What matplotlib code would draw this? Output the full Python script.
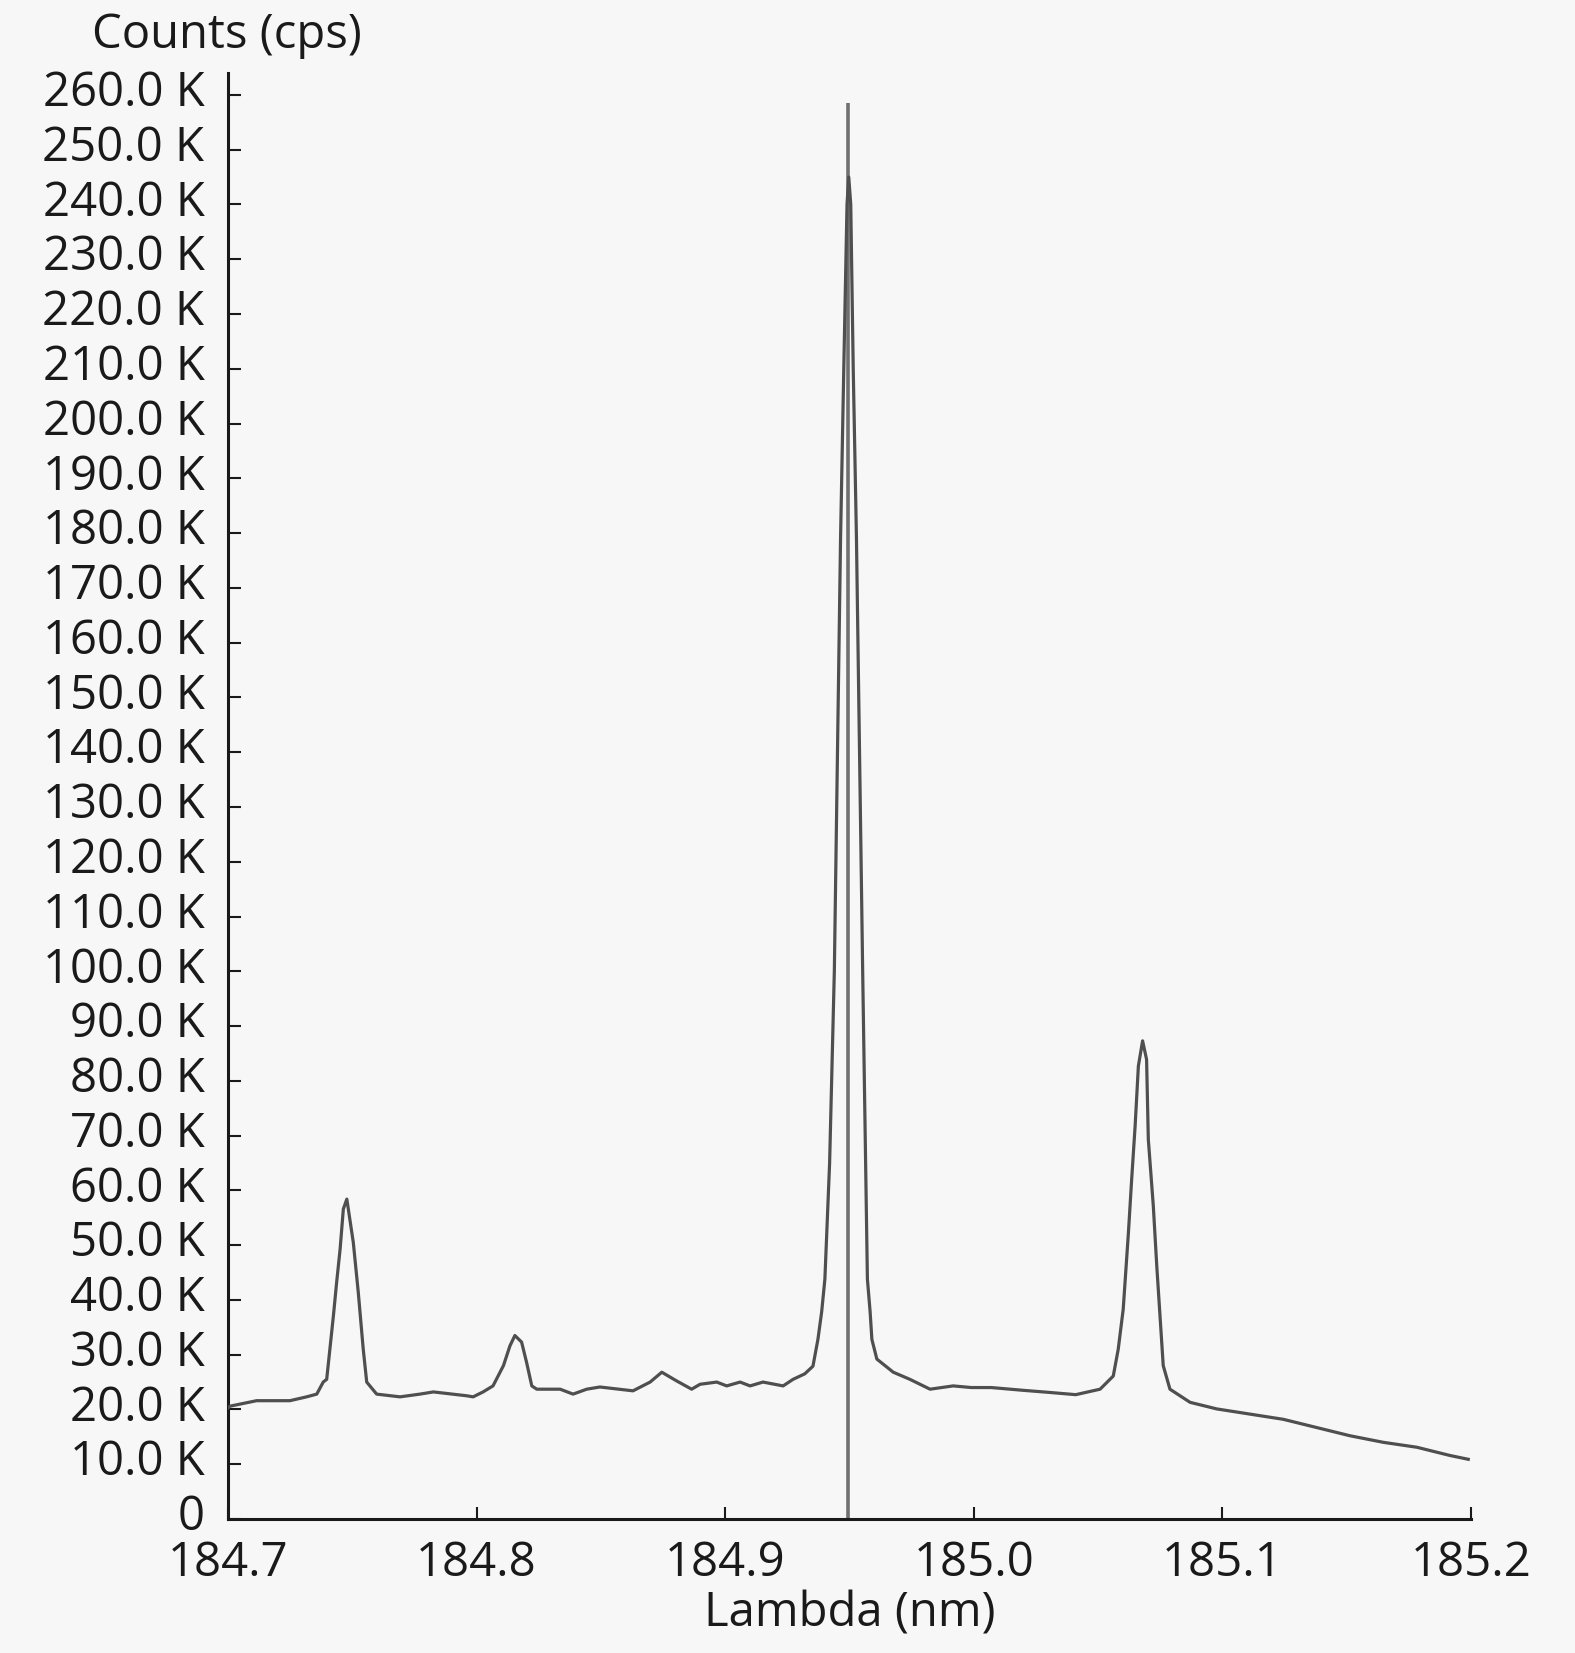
#!/usr/bin/env python3
"""
Emission spectrum around 184.95 nm (counts vs wavelength).
"""
import matplotlib
matplotlib.use("Agg")
import matplotlib.pyplot as plt
import matplotlib.transforms as mtransforms
from matplotlib.ticker import FuncFormatter, MultipleLocator

# wavelength (nm) and counts (cps)
wavelength = [
    184.7000, 184.7008, 184.7115, 184.7249, 184.7316, 184.7357, 184.7383, 184.7397,
    184.7424, 184.7437, 184.7451, 184.7464, 184.7478, 184.7504, 184.7524, 184.7544,
    184.7558, 184.7598, 184.7692, 184.7772, 184.7826, 184.7960, 184.7986, 184.8026,
    184.8066, 184.8108, 184.8134, 184.8154, 184.8181, 184.8201, 184.8222, 184.8242,
    184.8336, 184.8388, 184.8443, 184.8496, 184.8629, 184.8698, 184.8745, 184.8805,
    184.8865, 184.8899, 184.8966, 184.9006, 184.9060, 184.9100, 184.9152, 184.9233,
    184.9273, 184.9320, 184.9353, 184.9373, 184.9388, 184.9401, 184.9420, 184.9439,
    184.9464, 184.9477, 184.9490, 184.9497, 184.9505, 184.9515, 184.9528, 184.9553,
    184.9572, 184.9583, 184.9590, 184.9610, 184.9676, 184.9743, 184.9824, 184.9917,
    184.9990, 185.0070, 185.0197, 185.0307, 185.0410, 185.0508, 185.0561, 185.0581,
    185.0601, 185.0622, 185.0635, 185.0649, 185.0662, 185.0679, 185.0695, 185.0702,
    185.0722, 185.0736, 185.0749, 185.0762, 185.0789, 185.0870, 185.0977, 185.1245,
    185.1379, 185.1513, 185.1647, 185.1782, 185.1915, 185.1989,
]
counts = [
    20300, 20600, 21600, 21600, 22300, 22800, 25000, 25500,
    37100, 43200, 49300, 56600, 58400, 50500, 41400, 31000,
    25000, 22800, 22300, 22800, 23200, 22500, 22300, 23200,
    24300, 28000, 31600, 33500, 32300, 28600, 24300, 23700,
    23700, 22800, 23700, 24100, 23400, 25000, 26800, 25200,
    23700, 24600, 25000, 24300, 25000, 24300, 25000, 24300,
    25500, 26500, 27900, 32800, 37800, 43800, 65000, 100000,
    179000, 210000, 240000, 245000, 240000, 210000, 179000, 100000,
    43800, 37800, 32800, 29200, 26800, 25500, 23700, 24300,
    24000, 24000, 23500, 23100, 22700, 23700, 26100, 31000,
    38300, 52300, 62000, 71800, 82700, 87300, 83900, 69300,
    57200, 46200, 37100, 28000, 23700, 21300, 20100, 18200,
    16700, 15200, 14000, 13100, 11600, 10900,
]

# marker line at the main line position
marker_x = 184.9495
marker_top = 258500

xlabel = "Lambda (nm)"
ylabel = "Counts (cps)"

bg = "#f7f7f7"
line_color = "#4f4f4f"

plt.rcParams.update({
    "font.family": ["Open Sans", "DejaVu Sans"],
    "font.size": 34,
})

fig = plt.figure(figsize=(15.75, 16.53), dpi=100, facecolor=bg)
ax = fig.add_axes([228 / 1575, 1 - 1519 / 1653, (1471 - 228) / 1575, (1519 - 73) / 1653])
ax.set_facecolor(bg)

ax.vlines(marker_x, 0, marker_top, color="#707070", linewidth=2.6, zorder=2)
ax.plot(wavelength, counts, color=line_color, linewidth=2.3, zorder=3)

ax.set_xlim(184.7, 185.2)
ax.set_ylim(0, 264000)
ax.xaxis.set_major_locator(MultipleLocator(0.1))
ax.yaxis.set_major_locator(MultipleLocator(10000))
ax.xaxis.set_major_formatter(FuncFormatter(lambda v, p: f"{v:.1f}"))
ax.yaxis.set_major_formatter(FuncFormatter(lambda v, p: "0" if v == 0 else f"{v / 1000:.1f} K"))

ax.tick_params(axis="both", direction="in", length=9, width=1.5, colors="#1a1a1a",
               labelsize=34)
ax.tick_params(axis="y", pad=17)
ax.tick_params(axis="x", pad=15)

# y labels sit a little above their ticks in the reference
shift_up = mtransforms.ScaledTranslation(0, 7 / 100, fig.dpi_scale_trans)
for lbl in ax.get_yticklabels():
    lbl.set_transform(lbl.get_transform() + shift_up)

for side in ["top", "right"]:
    ax.spines[side].set_visible(False)
for side in ["left", "bottom"]:
    ax.spines[side].set_color("#1a1a1a")
    ax.spines[side].set_linewidth(2.2)

ax.set_xlabel(xlabel, fontsize=34, color="#1a1a1a", labelpad=2)
fig.text(227 / 1575, 1 - 35 / 1653, ylabel, fontsize=34, color="#1a1a1a",
         ha="center", va="center")

fig.savefig("out.png", dpi=100, facecolor=bg)
